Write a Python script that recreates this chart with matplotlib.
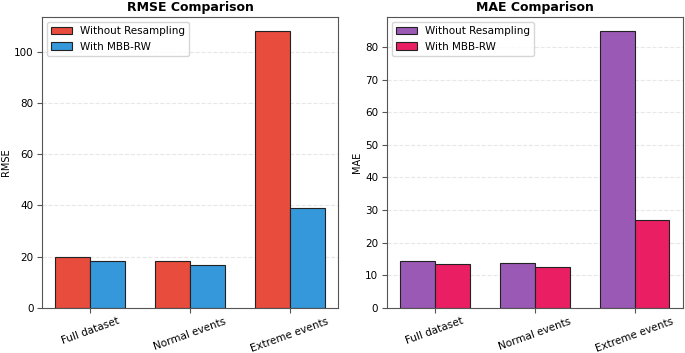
import numpy as np
import matplotlib.pyplot as plt

# data
categories = ['Full dataset', 'Normal events', 'Extreme events']
rmse_without = [19.8, 18.3, 108.3]
rmse_with = [18.4, 16.9, 39.0]
mae_without = [14.3, 13.6, 85.0]
mae_with = [13.4, 12.4, 27.0]

x = np.arange(len(categories))
w = 0.35

fig, (ax1, ax2) = plt.subplots(1, 2, figsize=(6.85, 3.53), dpi=100)

panels = [
    (ax1, rmse_without, rmse_with, '#e74c3c', '#3498db', 'RMSE', 'RMSE Comparison'),
    (ax2, mae_without, mae_with, '#9b59b6', '#e91e63', 'MAE', 'MAE Comparison'),
]

for ax, a, b, c1, c2, ylab, title in panels:
    ax.bar(x - w / 2, a, w, color=c1, edgecolor='#222222', linewidth=0.8, label='Without Resampling')
    ax.bar(x + w / 2, b, w, color=c2, edgecolor='#222222', linewidth=0.8, label='With MBB-RW')
    ax.set_xticks(x)
    ax.set_xticklabels(categories, rotation=20, fontsize=7.5)
    ax.tick_params(axis='both', labelsize=7.5, color='#555555', pad=2.5)
    ax.set_ylabel(ylab, fontsize=7, labelpad=2)
    ax.set_title(title, fontsize=9, fontweight='bold', pad=4)
    ax.grid(axis='y', linestyle='--', alpha=0.3)
    ax.set_axisbelow(True)
    for s in ax.spines.values():
        s.set_color('#555555')
    ax.legend(loc='upper left', fontsize=7.5)

#adjust plot spacing
plt.subplots_adjust(left=0.061, right=0.997, bottom=0.128, top=0.952, wspace=0.163)
plt.savefig('out.png')
